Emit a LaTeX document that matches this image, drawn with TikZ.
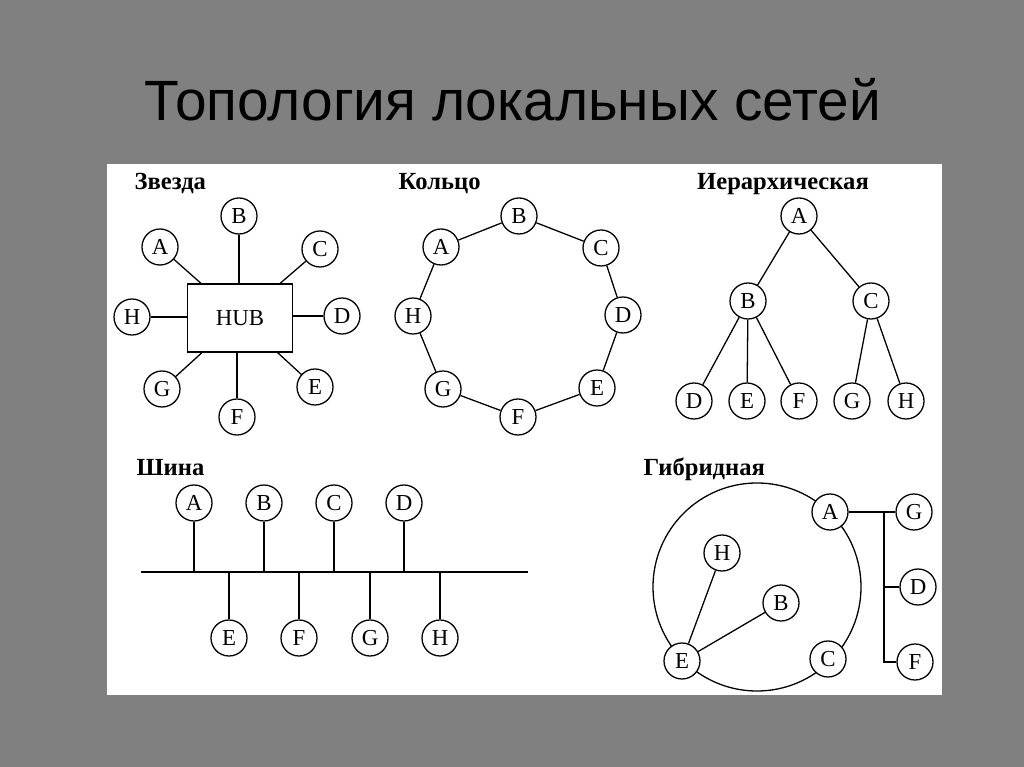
\documentclass[tikz,border=0pt]{standalone}
\usepackage{fontspec}
\setmainfont{Liberation Serif}
\newfontfamily\titlefont{Liberation Sans}
\usepackage{xcolor}
\usepackage{tikz}
\usetikzlibrary{positioning}
\definecolor{fond}{RGB}{128,128,128}
\definecolor{encre}{RGB}{0,0,0}

\begin{document}
\begin{tikzpicture}[x=0.03cm, y=-0.03cm, line width=1.1pt, draw=encre,
  st/.style={circle, draw=encre, fill=white, line width=1.1pt, minimum size=1.08cm,
             inner sep=0pt, text height=12.9pt, text depth=0pt,
             font=\fontsize{19.5}{19.5}\selectfont},
  hubbox/.style={rectangle, draw=encre, fill=white, line width=1.1pt, minimum width=3.15cm,
                 minimum height=2.04cm, text height=12.9pt, text depth=0pt,
                 font=\fontsize{19.5}{19.5}\selectfont},
  ttl/.style={anchor=base west, inner sep=0pt, font=\bfseries\fontsize{21}{21}\selectfont}]

% ── fond et panneau ──
\fill[fond] (0,0) rectangle (1024,767);
\fill[white] (107,164) rectangle (942,695);
\node (titre) at (513,100) {\titlefont\fontsize{48.5}{52}\selectfont Топология локальных сетей};

% ── Звезда ──
\node[ttl] (t1) at (134,190) {Звезда};
\node[hubbox] (hub) at (240,318) {HUB};
\node[st] (sA) at (160,247) {A};
\node[st] (sB) at (239,216) {B};
\node[st] (sC) at (320,249) {C};
\node[st] (sD) at (342,316) {D};
\node[st] (sE) at (315,387) {E};
\node[st] (sF) at (237,417) {F};
\node[st] (sG) at (162,389) {G};
\node[st] (sH) at (132,317) {H};
\foreach \n in {A,C,E,G} \draw (s\n) -- (hub);
\draw (sB) -- (sB |- hub.north);
\draw (sF) -- (sF |- hub.south);
\draw (sH) -- (hub.west |- sH);
\draw (sD) -- (hub.east |- sD);

% ── Кольцо ──
\node[ttl] (t2) at (398,190) {Кольцо};
\node[st] (rA) at (441,247) {A};
\node[st] (rB) at (519,216) {B};
\node[st] (rC) at (601,248) {C};
\node[st] (rD) at (623,315) {D};
\node[st] (rE) at (597,388) {E};
\node[st] (rF) at (518,417) {F};
\node[st] (rG) at (443,389) {G};
\node[st] (rH) at (413,316) {H};
\draw (rA) -- (rB) -- (rC) -- (rD) -- (rE) -- (rF) -- (rG) -- (rH) -- (rA);

% ── Иерархическая ──
\node[ttl, anchor=base] (t3) at (783,190) {Иерархическая};
\node[st] (hA) at (799,216) {A};
\node[st] (hB) at (748,301) {B};
\node[st] (hC) at (871,301) {C};
\node[st] (hD) at (694,401) {D};
\node[st] (hE) at (747,401) {E};
\node[st] (hF) at (799,401) {F};
\node[st] (hG) at (852,401) {G};
\node[st] (hH) at (906,401) {H};
\draw (hA) -- (hB);
\draw (hA) -- (hC);
\foreach \n in {D,E,F} \draw (hB) -- (h\n);
\foreach \n in {G,H} \draw (hC) -- (h\n);

% ── Шина ──
\node[ttl] (t4) at (136,476) {Шина};
\coordinate (busL) at (141,572);
\coordinate (busR) at (528,572);
\draw (busL) -- (busR);
\node[st] (bA) at (194,503) {A};
\node[st] (bB) at (264,503) {B};
\node[st] (bC) at (334,503) {C};
\node[st] (bD) at (404,503) {D};
\node[st] (bE) at (229,638) {E};
\node[st] (bF) at (299,638) {F};
\node[st] (bG) at (370,638) {G};
\node[st] (bH) at (440,638) {H};
\foreach \n in {A,B,C,D,E,F,G,H} \draw (b\n) -- (b\n |- busL);

% ── Гибридная ──
\node[ttl] (t5) at (643,476) {Гибридная};
\coordinate (anneau) at (757,587);
\draw (anneau) circle[radius=3.12cm];
\node[st] (gA) at (830,512) {A};
\node[st] (gB) at (781,603) {B};
\node[st] (gC) at (828,659) {C};
\node[st] (gE) at (682,661) {E};
\node[st] (gH) at (722,553) {H};
\node[st] (gG) at (914,512) {G};
\node[st] (gD) at (918,587) {D};
\node[st] (gF) at (915,662) {F};
\coordinate (tronc) at (884,512);
\draw (gE) -- (gH);
\draw (gE) -- (gB);
\draw (gA) -- (tronc) -- (gG);
\draw (tronc) -- (tronc |- gF) -- (gF);
\draw (tronc |- gD) -- (gD);

\end{tikzpicture}
\end{document}
